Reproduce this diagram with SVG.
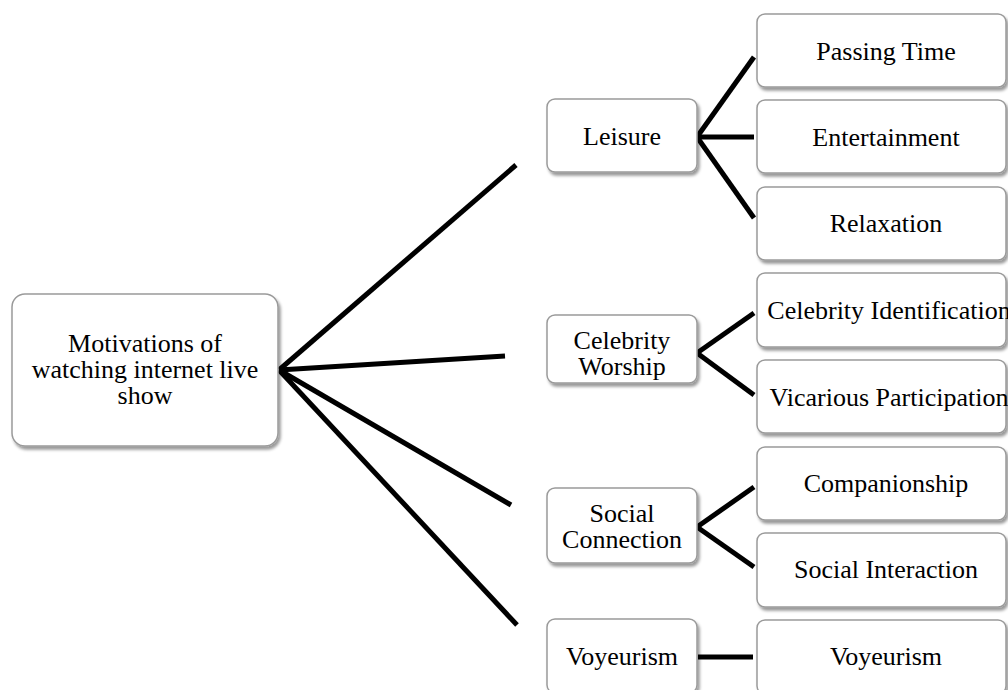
<svg xmlns="http://www.w3.org/2000/svg" width="1008" height="690" viewBox="0 0 1008 690">
<defs>
<filter id="sh" x="-10%" y="-10%" width="130%" height="140%">
<feDropShadow dx="2" dy="3" stdDeviation="1.8" flood-color="#000" flood-opacity="0.4"/>
</filter>
</defs>
<style>
.box{fill:#fff;stroke:#9a9a9a;stroke-width:1.5;filter:url(#sh)}
.t{font-family:"Liberation Serif","Times New Roman",serif;font-size:26px;fill:#000;text-anchor:middle}
.c{stroke:#000;stroke-width:5;fill:none;stroke-linecap:butt}
</style>
<rect width="1008" height="690" fill="#fff"/>
<g id="connectors">
<line class="c" x1="279" y1="370" x2="516" y2="165"/>
<line class="c" x1="279" y1="370" x2="505" y2="356"/>
<line class="c" x1="279" y1="370" x2="511" y2="505"/>
<line class="c" x1="279" y1="370" x2="517" y2="625"/>
<line class="c" x1="697" y1="137" x2="754" y2="57"/>
<line class="c" x1="697" y1="137" x2="754" y2="137"/>
<line class="c" x1="697" y1="137" x2="754" y2="218"/>
<line class="c" x1="697" y1="353" x2="754" y2="313"/>
<line class="c" x1="697" y1="353" x2="754" y2="395"/>
<line class="c" x1="697" y1="527" x2="754" y2="487"/>
<line class="c" x1="697" y1="527" x2="754" y2="567"/>
<line class="c" x1="698" y1="657" x2="753" y2="657"/>
</g>
<g id="root">
<rect class="box" x="12" y="294" width="266" height="152" rx="13"/>
<text class="t" x="145" y="352">Motivations of</text>
<text class="t" x="145" y="378">watching internet live</text>
<text class="t" x="145" y="404">show</text>
</g>
<g id="leisure">
<rect class="box" x="547" y="99" width="150" height="73" rx="8"/>
<text class="t" x="622" y="145">Leisure</text>
</g>
<g id="celebrity-worship">
<rect class="box" x="547" y="315" width="150" height="68" rx="8"/>
<text class="t" x="622" y="349">Celebrity</text>
<text class="t" x="622" y="375">Worship</text>
</g>
<g id="social-connection">
<rect class="box" x="547" y="488" width="150" height="75" rx="8"/>
<text class="t" x="622" y="522">Social</text>
<text class="t" x="622" y="548">Connection</text>
</g>
<g id="voyeurism-mid">
<rect class="box" x="547" y="619" width="150" height="74" rx="8"/>
<text class="t" x="622" y="665">Voyeurism</text>
</g>
<g id="passing-time">
<rect class="box" x="757" y="14" width="249" height="73" rx="8"/>
<text class="t" x="886" y="60">Passing Time</text>
</g>
<g id="entertainment">
<rect class="box" x="757" y="100" width="249" height="73" rx="8"/>
<text class="t" x="886" y="146">Entertainment</text>
</g>
<g id="relaxation">
<rect class="box" x="757" y="187" width="249" height="73" rx="8"/>
<text class="t" x="886" y="232">Relaxation</text>
</g>
<g id="celebrity-identification">
<rect class="box" x="757" y="273" width="249" height="74" rx="8"/>
<text class="t" x="889" y="319">Celebrity Identification</text>
</g>
<g id="vicarious-participation">
<rect class="box" x="757" y="360" width="249" height="73" rx="8"/>
<text class="t" x="889" y="406">Vicarious Participation</text>
</g>
<g id="companionship">
<rect class="box" x="757" y="447" width="249" height="73" rx="8"/>
<text class="t" x="886" y="492">Companionship</text>
</g>
<g id="social-interaction">
<rect class="box" x="757" y="533" width="249" height="74" rx="8"/>
<text class="t" x="886" y="578">Social Interaction</text>
</g>
<g id="voyeurism-right">
<rect class="box" x="757" y="620" width="249" height="74" rx="8"/>
<text class="t" x="886" y="665">Voyeurism</text>
</g>
</svg>
